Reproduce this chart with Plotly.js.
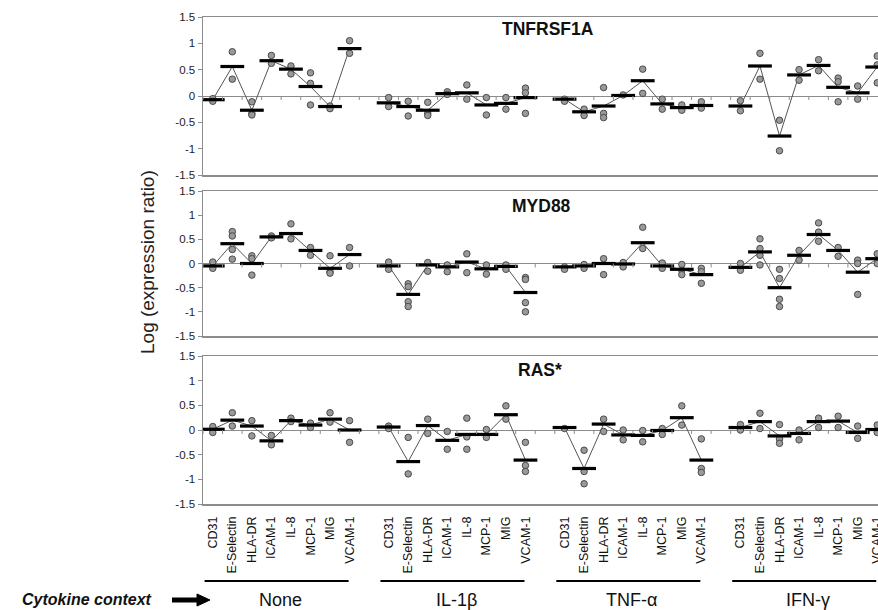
<!DOCTYPE html>
<html><head><meta charset="utf-8">
<script src="https://cdn.plot.ly/plotly-3.0.1.min.js"></script>
<style>html,body{margin:0;padding:0;background:#fff;overflow:hidden}</style>
</head><body><div id="chart" style="width:878px;height:610px"></div>
<script>
// ---- categories ----
const markers = ['CD31','E-Selectin','HLA-DR','ICAM-1','IL-8','MCP-1','MIG','VCAM-1'];
const contexts = ['None','IL-1β','TNF-α','IFN-γ'];
const genes = ['TNFRSF1A','MYD88','RAS*'];
const yTicks = [-1.5,-1,-0.5,0,0.5,1,1.5];
const yTickText = ['-1.5','-1','-0.5','0','0.5','1','1.5'];

// ---- TNFRSF1A: group means (None, IL-1β, TNF-α, IFN-γ) ----
const tnfrsf1a_mean = [
  -0.07, 0.56, -0.27, 0.67, 0.51, 0.18, -0.20, 0.90,
  -0.13, -0.20, -0.27, 0.045, 0.06, -0.17, -0.14, -0.03,
  -0.06, -0.30, -0.19, 0.01, 0.29, -0.15, -0.22, -0.18,
  -0.19, 0.57, -0.76, 0.40, 0.58, 0.165, 0.06, 0.55
];
const tnfrsf1a_reps = [
  [-0.05,-0.10],[0.84,0.32],[-0.11,-0.33,-0.36],[0.77,0.62],[0.57,0.42],[0.44,0.24,-0.17],[-0.19,-0.24],[1.05,0.81],
  [-0.03,-0.20],[-0.10,-0.38],[-0.12,-0.33,-0.37],[0.08,0.03],[0.21,-0.06],[-0.03,-0.36],[-0.03,-0.25],[0.15,0.06,-0.33],
  [-0.06,-0.10],[-0.25,-0.37],[0.16,-0.33,-0.41],[0.02],[0.51,0.05],[-0.06,-0.25],[-0.17,-0.27],[-0.11,-0.23],
  [-0.09,-0.28],[0.81,0.32],[-0.46,-1.04],[0.50,0.30],[0.69,0.48],[0.34,0.27,-0.11],[0.19,-0.06],[0.76,0.59,0.25]
];

// ---- MYD88 ----
const myd88_mean = [
  -0.05, 0.41, 0.00, 0.55, 0.62, 0.27, -0.10, 0.185,
  -0.05, -0.64, -0.03, -0.07, 0.03, -0.11, -0.06, -0.60,
  -0.07, -0.05, 0.00, -0.01, 0.43, -0.05, -0.12, -0.23,
  -0.08, 0.24, -0.50, 0.17, 0.60, 0.27, -0.18, 0.10
];
const myd88_reps = [
  [0.03,-0.10],[0.66,0.57,0.29,0.09],[0.16,0.10,-0.24],[0.57,0.53],[0.82,0.51],[0.33,0.17],[0.16,-0.17,-0.20],[0.33,-0.05],
  [0.03,-0.12],[-0.42,-0.48,-0.79,-0.89],[0.02,-0.16],[-0.03,-0.17],[0.20,-0.19],[-0.03,-0.22],[-0.03,-0.12],[-0.29,-0.33,-0.81,-1.00],
  [-0.07,-0.12],[-0.02,-0.10],[0.10,-0.23],[0.02,-0.07],[0.75,0.31],[0.01,-0.10],[-0.02,-0.14,-0.23],[-0.10,-0.17,-0.41],
  [0.00,-0.14],[0.51,0.31,0.17,-0.03],[-0.12,-0.31,-0.74,-0.89],[0.27,0.07],[0.84,0.65,0.46],[0.33,0.15],[0.07,0.00,-0.64],[0.20,0.00]
];

// ---- RAS* ----
const ras_mean = [
  0.015, 0.20, 0.08, -0.22, 0.19, 0.10, 0.22, 0.00,
  0.06, -0.64, 0.09, -0.21, -0.09, -0.09, 0.31, -0.61,
  0.05, -0.78, 0.12, -0.10, -0.11, -0.01, 0.25, -0.61,
  0.05, 0.17, -0.12, -0.07, 0.17, 0.18, -0.05, 0.01
];
const ras_reps = [
  [0.07,-0.05],[0.35,0.08],[0.19,-0.12],[-0.11,-0.30],[0.24,0.17],[0.14,0.05],[0.35,0.16],[0.19,-0.25],
  [0.08,0.03],[-0.15,-0.89],[0.22,-0.07],[-0.03,-0.39],[0.24,-0.14,-0.39],[0.01,-0.15],[0.49,0.22],[-0.25,-0.72,-0.84],
  [0.03],[-0.41,-0.84,-1.09],[0.22,-0.03],[0.00,-0.20],[-0.01,-0.24],[0.03,-0.09],[0.49,0.10],[-0.18,-0.78,-0.86],
  [0.11,0.00],[0.34,0.03],[0.11,-0.18,-0.27],[0.00,-0.20],[0.24,0.05],[0.28,0.05],[0.08,-0.17],[0.10,-0.05]
];

const allMeans = [tnfrsf1a_mean, myd88_mean, ras_mean];
const allReps = [tnfrsf1a_reps, myd88_reps, ras_reps];

// ---- build ----
const slot = markers.length + 1; // one blank slot between context groups
const catX = [], catLabel = [];
contexts.forEach((c, ci) => markers.forEach((m, mi) => { catX.push(ci*slot + mi); catLabel.push(m); }));

const FONT = 'Liberation Sans, Arial, Helvetica, sans-serif';
const AX = '#8c8c8c';
const W = 878, H = 610;
const panelPx = [[17,175],[191,336],[356,504]];
const titleXY = [[548,29],[541,206],[540,370]];

const traces = [];
const layout = {
  width: W, height: H, margin: {l:0, r:0, t:0, b:0},
  paper_bgcolor: '#fff', plot_bgcolor: '#fff', showlegend: false,
  font: {family: FONT, color: '#222'},
  shapes: [], annotations: []
};

const boundaries = [];
for (let k = -1; k < catX[catX.length-1] + 1; k++) boundaries.push(k + 0.5);

genes.forEach((g, gi) => {
  const sfx = gi === 0 ? '' : String(gi+1);
  const xa = 'x' + sfx, ya = 'y' + sfx;
  const means = allMeans[gi], reps = allReps[gi];
  // mean connecting lines (gap between groups)
  const lx = [], ly = [];
  contexts.forEach((c, ci) => {
    markers.forEach((m, mi) => { lx.push(ci*slot+mi); ly.push(means[ci*markers.length+mi]); });
    lx.push(ci*slot+markers.length); ly.push(null);
  });
  traces.push({type:'scatter', mode:'lines', x:lx, y:ly, xaxis:xa, yaxis:ya,
    line:{color:'#555', width:1}, connectgaps:false, hoverinfo:'skip'});
  // replicate points
  const px = [], py = [];
  reps.forEach((arr, i) => arr.forEach(v => { px.push(catX[i]); py.push(v); }));
  traces.push({type:'scatter', mode:'markers', x:px, y:py, xaxis:xa, yaxis:ya,
    marker:{symbol:'circle', size:6.5, color:'#999', line:{color:'#4a4a4a', width:1}}, hoverinfo:'skip'});
  // mean bars
  traces.push({type:'scatter', mode:'markers', x:catX, y:means, xaxis:xa, yaxis:ya,
    marker:{symbol:'line-ew', size:17, line:{color:'#000', width:3.2}}, hoverinfo:'skip'});

  const [top, bot] = panelPx[gi];
  layout['xaxis' + sfx] = {
    domain:[203/W, 1], range:[-0.5, 34.04], anchor: ya,
    showgrid:false, zeroline:false, showline:true, mirror:true, linecolor:AX, linewidth:1.5,
    tickvals: catX, ticktext: catLabel, showticklabels: gi === 2, ticklabeloverflow:'allow',
    tickangle:-90, ticks: gi === 2 ? 'outside' : '', ticklen:6, tickcolor:'rgba(0,0,0,0)',
    tickfont:{family:FONT, size:12.5, color:'#111'}
  };
  layout['yaxis' + sfx] = {
    domain:[1-bot/H, 1-top/H], range:[-1.5,1.5], anchor: xa,
    tickvals: yTicks, ticktext: yTickText, ticks:'outside', ticklen:4, tickcolor:AX,
    showline:true, linecolor:AX, linewidth:1.5, showgrid:false,
    zeroline:true, zerolinecolor:AX, zerolinewidth:1,
    tickfont:{family:FONT, size:11.5, color:'#222'}
  };
  // tick marks along the zero line at category boundaries
  boundaries.forEach(b => layout.shapes.push({type:'line', xref:xa, yref:ya, ysizemode:'pixel', yanchor:0,
    x0:b, x1:b, y0:0, y1:-4, line:{color:AX, width:1}}));
  // panel title
  layout.annotations.push({text:'<b>'+g+'</b>', xref:'paper', yref:'paper',
    x:titleXY[gi][0]/W, y:1-titleXY[gi][1]/H, xanchor:'center', yanchor:'middle', showarrow:false,
    font:{family:FONT, size:17.5, color:'#111'}});
});

// y-axis title
layout.annotations.push({text:'Log (expression ratio)', xref:'paper', yref:'paper',
  x:147/W, y:1-262/H, xanchor:'center', yanchor:'middle', textangle:-90, showarrow:false,
  font:{family:FONT, size:19, color:'#222'}});

// context underline + labels
contexts.forEach((c, ci) => {
  layout.shapes.push({type:'line', xref:'x3', yref:'paper', x0:ci*slot-0.42, x1:ci*slot+6.95,
    y0:1-581/H, y1:1-581/H, line:{color:'#000', width:2}});
  layout.annotations.push({text:c, xref:'x3', yref:'paper', x:ci*slot+3.45, y:1-600/H,
    xanchor:'center', yanchor:'middle', showarrow:false, font:{family:FONT, size:18, color:'#111'}});
});
layout.annotations.push({text:'<b><i>Cytokine context</i></b>', xref:'paper', yref:'paper',
  x:154/W, y:1-599/H, xanchor:'right', yanchor:'middle', showarrow:false,
  font:{family:FONT, size:16, color:'#111'}});
// arrow
const ay = 1-600/H;
layout.shapes.push({type:'line', xref:'paper', yref:'paper', x0:172/W, x1:199/W, y0:ay, y1:ay,
  line:{color:'#000', width:5}});
layout.shapes.push({type:'path', xref:'paper', yref:'paper', fillcolor:'#000', line:{color:'#000', width:1},
  path:'M '+(197/W)+' '+(ay+6/H)+' L '+(210/W)+' '+ay+' L '+(197/W)+' '+(ay-6/H)+' Z'});

Plotly.newPlot('chart', traces, layout, {displayModeBar:false, staticPlot:true});
</script></body></html>
